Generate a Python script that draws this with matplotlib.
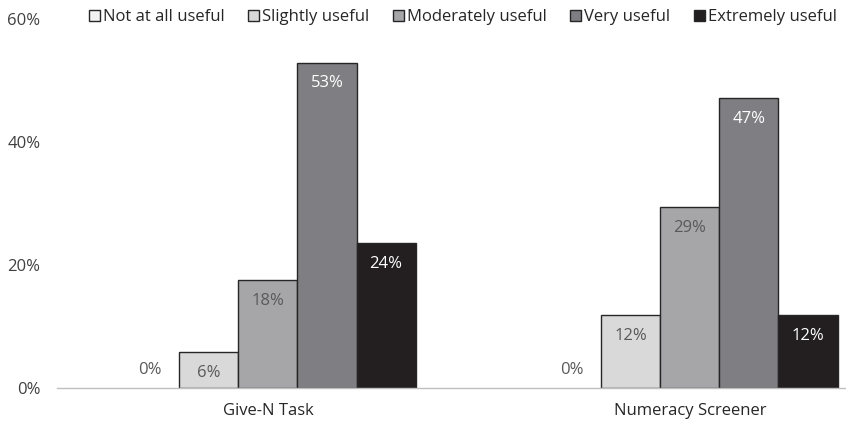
import matplotlib
matplotlib.use("Agg")
import matplotlib.pyplot as plt
from matplotlib.patches import Patch
import numpy as np

plt.rcParams['font.family'] = ['Open Sans', 'DejaVu Sans']

groups = ["Give-N Task", "Numeracy Screener"]
series = ["Not at all useful", "Slightly useful", "Moderately useful", "Very useful", "Extremely useful"]
values = [
    [0.0, 0.0],     # Not at all useful
    [5.9, 11.8],    # Slightly useful
    [17.6, 29.4],   # Moderately useful
    [52.9, 47.1],   # Very useful
    [23.5, 11.8],   # Extremely useful
]
yticks = [0, 20, 40, 60]

colors = ["#f2f2f2", "#d9d9d9", "#a6a6a9", "#7f7f83", "#231f20"]
label_colors = ["#595959", "#595959", "#595959", "white", "white"]

fig = plt.figure(figsize=(8.46, 4.23), dpi=100)
ax = fig.add_axes([57/846, 1-388/423, 1-57/846, (388-19)/423])

x = np.arange(len(groups))
w = 0.14
handles = []
for i, s in enumerate(series):
    pos = x + (i - 2) * w
    lws = [1.0 if v > 0 else 0 for v in values[i]]
    ax.bar(pos, values[i], width=w, color=colors[i], edgecolor="#262626",
           linewidth=lws, zorder=2)
    handles.append(Patch(facecolor=colors[i], edgecolor="#262626", linewidth=1.0, label=s))
    for p, v in zip(pos, values[i]):
        txt = f"{round(v):.0f}%"
        if v < 3:
            ax.annotate(txt, (p, 0), xytext=(0, 13), textcoords="offset points",
                        ha="center", va="center", fontsize=12, color=label_colors[i])
        else:
            ax.annotate(txt, (p, v), xytext=(0, -15), textcoords="offset points",
                        ha="center", va="center", fontsize=12, color=label_colors[i])

ax.set_xlim(-0.5, 1.37)
ax.set_ylim(0, 60)
ax.set_yticks(yticks)
ax.set_yticklabels([f"{t}%" for t in yticks], fontsize=12, color="#404040")
ax.set_xticks(x)
ax.set_xticklabels(groups, fontsize=12, color="#262626")
ax.tick_params(axis="both", length=0)
ax.tick_params(axis="x", pad=11)
ax.tick_params(axis="y", pad=12)
for sp in ["top", "right", "left"]:
    ax.spines[sp].set_visible(False)
ax.spines["bottom"].set_color("#bfbfbf")
ax.spines["bottom"].set_linewidth(1.0)
ax.patch.set_alpha(0)

leg = fig.legend(handles=handles, loc="upper right", bbox_to_anchor=(1.0, 1.0), ncol=5,
                 frameon=False, fontsize=12, handlelength=0.65, handleheight=0.65,
                 handletextpad=0.2, columnspacing=1.4, borderaxespad=0.15)
for t in leg.get_texts():
    t.set_color("#262626")

fig.savefig("out.png", dpi=100)
